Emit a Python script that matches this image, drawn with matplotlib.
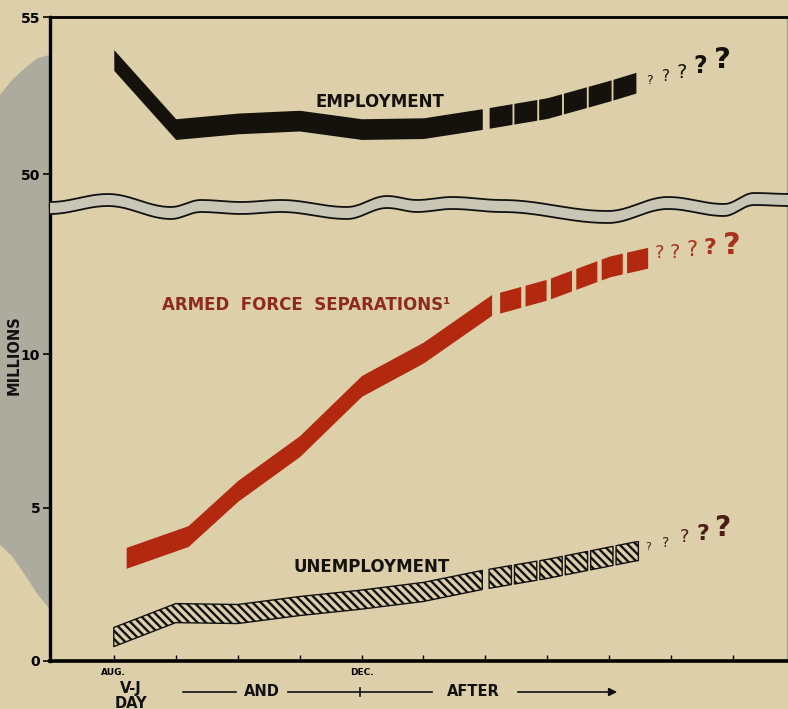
import numpy as np
import matplotlib
matplotlib.use('Agg')
import matplotlib.pyplot as plt
from matplotlib.patches import Polygon

plt.rcParams['font.family'] = ['DejaVu Sans']
plt.rcParams['hatch.linewidth'] = 1.7

# months after V-J day (0 = Aug.), values in millions
emp_months = [0, 1, 2, 3, 4, 5, 5.95]
emp_values = [53.63, 51.43, 51.61, 51.70, 51.43, 51.46, 51.75]
emp_proj_months = [5.95, 7, 8, 8.45]
emp_proj_values = [51.75, 52.1, 52.65, 52.92]

sep_months = [0.2, 1.2, 2, 3, 4, 5, 6.1]
sep_values = [3.36, 4.07, 5.54, 7.0, 8.96, 10.05, 11.6]
sep_proj_months = [6.1, 7, 8, 8.65]
sep_proj_values = [11.6, 12.1, 12.85, 13.15]

unemp_months = [0, 1, 2, 3, 4, 5, 5.95]
unemp_values = [0.78, 1.56, 1.53, 1.79, 2.0, 2.25, 2.64]
unemp_proj_months = [5.95, 7, 8, 8.45]
unemp_proj_values = [2.64, 3.0, 3.4, 3.58]

month_ticks = list(range(11))
month_labels = ['AUG.', '', '', '', 'DEC.', '', '', '', '', '', '']
upper_ticks = [50, 55]
lower_ticks = [0, 5, 10]

PAPER = '#dccfa9'
W, H = 788, 709


def fpx(x, y):
    # figure pixel (from top-left) -> figure fraction
    return x / W, 1 - y / H


def band(ax, xs, ys, half, **kw):
    xs = np.asarray(xs, float)
    ys = np.asarray(ys, float)
    ax.fill_between(xs, ys - half, ys + half, **kw)


def dash_blocks(ax, px, py, start, period, width, n, half, **kw):
    for i in range(n):
        a = start + i * period
        xs = np.linspace(a, a + width, 6)
        ys = np.interp(xs, px, py)
        ax.fill_between(xs, ys - half, ys + half, **kw)


def qmarks(ax, x0, y0, offsets, sizes, color, bold_last=True):
    for i, ((dx, dy), s) in enumerate(zip(offsets, sizes)):
        w = 'bold' if (bold_last and i >= len(sizes) - 2) else 'normal'
        ax.annotate('?', xy=(x0, y0), xytext=(dx, dy), textcoords='offset pixels',
                    ha='center', va='center', fontsize=s, color=color, weight=w)


fig = plt.figure(figsize=(W / 100, H / 100), dpi=100, facecolor=PAPER)

x_left, x_right = 50 / W, 787 / W
y_top, y_break, y_bot = 1 - 17 / H, 1 - 205 / H, 1 - 661 / H
ax_top = fig.add_axes([x_left, y_break, x_right - x_left, y_top - y_break])
ax_bot = fig.add_axes([x_left, y_bot, x_right - x_left, y_break - y_bot])

xlim = (-1.03, 10.87)
for ax in (ax_top, ax_bot):
    ax.set_facecolor(PAPER)
    ax.set_xlim(*xlim)
    ax.spines['left'].set_linewidth(2.4)
    ax.spines['right'].set_linewidth(1)
    ax.spines['right'].set_color('#a59f8a')
    ax.tick_params(axis='y', direction='out', length=5, width=1.2, labelsize=10, pad=2)

ax_top.set_ylim(55 - (205 - 17) / 31.4, 55)
ax_bot.set_ylim(0, (661 - 205) / 30.7)

ax_top.spines['bottom'].set_visible(False)
ax_top.spines['top'].set_linewidth(2)
ax_top.set_xticks([])
ax_top.set_yticks(upper_ticks)
ax_top.set_yticklabels([str(t) for t in upper_ticks], weight='bold')

ax_bot.spines['top'].set_visible(False)
ax_bot.spines['bottom'].set_linewidth(2.6)
ax_bot.set_yticks(lower_ticks)
ax_bot.set_yticklabels([str(t) for t in lower_ticks], weight='bold')
ax_bot.set_xticks(month_ticks)
ax_bot.set_xticklabels(month_labels, fontsize=6.5, weight='bold')
ax_bot.tick_params(axis='x', direction='in', length=4, width=1, pad=5)

# employment (black)
emp_style = dict(color='#15120e', linewidth=0)
band(ax_top, emp_months, emp_values, 0.33, **emp_style)
dash_blocks(ax_top, emp_proj_months, emp_proj_values, 6.06, 0.40, 0.37, 6, 0.33, **emp_style)
qmarks(ax_top, emp_proj_months[-1], emp_proj_values[-1],
       [(12, 2), (29, 6), (45, 10), (63, 16), (85, 22)], [9, 11, 14, 17, 21], '#15120e')
ax_top.text(4.29, 52.29, 'EMPLOYMENT', ha='center', va='center', fontsize=12,
            weight='bold', color='#15120e')

# armed force separations (red)
sep_style = dict(color='#b3290f', linewidth=0)
band(ax_bot, sep_months, sep_values, 0.34, **sep_style)
dash_blocks(ax_bot, sep_proj_months, sep_proj_values, 6.23, 0.41, 0.34, 6, 0.34, **sep_style)
qmarks(ax_bot, sep_proj_months[-1], sep_proj_values[-1],
       [(10, 4), (25, 5), (43, 7), (60, 9), (82, 12)], [13, 14, 15, 16, 22], '#a8321c')
ax_bot.text(3.1, 11.6, 'ARMED  FORCE  SEPARATIONS\u00b9', ha='center', va='center',
            fontsize=12, weight='bold', color='#8e2b1c')

# unemployment (hatched)
unemp_style = dict(facecolor=PAPER, edgecolor='#111111', hatch='\\\\\\\\', linewidth=1)
band(ax_bot, unemp_months, unemp_values, 0.31, **unemp_style)
dash_blocks(ax_bot, unemp_proj_months, unemp_proj_values, 6.06, 0.41, 0.36, 6, 0.31, **unemp_style)
qmarks(ax_bot, unemp_proj_months[-1], unemp_proj_values[-1],
       [(11, 4), (29, 8), (47, 14), (66, 17), (85, 23)], [8, 10, 13, 16, 20], '#4a1d18')
ax_bot.text(4.16, 3.06, 'UNEMPLOYMENT', ha='center', va='center', fontsize=12,
            weight='bold', color='#15120e')

# page shadow at left edge of the scan
shadow = [(49, 55), (38, 58), (25, 68), (12, 80), (0, 95), (0, 545),
          (12, 556), (25, 575), (38, 595), (49, 608)]
fig.add_artist(Polygon([fpx(x, y) for x, y in shadow], closed=True,
                       transform=fig.transFigure, facecolor='#acab9e',
                       edgecolor='none', zorder=-1))

# wavy scale break
wave_x = [50, 108, 171, 201, 241, 281, 347, 387, 417, 452, 502, 608, 668, 724, 754, 790]
wave_y = [208, 200, 213, 206, 208, 206, 213, 202, 206, 203, 206, 217, 203, 210, 199, 200]
wx, wy = [], []
for i in range(len(wave_x) - 1):
    t = np.linspace(0, 1, 25)
    wx.extend(wave_x[i] + (wave_x[i + 1] - wave_x[i]) * t)
    wy.extend(wave_y[i] + (wave_y[i + 1] - wave_y[i]) * (1 - np.cos(np.pi * t)) / 2)
wx, wy = np.array(wx), np.array(wy)
top_edge = [fpx(x, y - 6) for x, y in zip(wx, wy)]
bot_edge = [fpx(x, y + 6) for x, y in zip(wx, wy)]
fig.add_artist(Polygon(top_edge + bot_edge[::-1], closed=True, transform=fig.transFigure,
                       facecolor='#c9c6b6', edgecolor='none', zorder=5))
for edge in (top_edge, bot_edge):
    ex, ey = zip(*edge)
    fig.add_artist(plt.Line2D(ex, ey, transform=fig.transFigure, color='#111111',
                              linewidth=1.3, zorder=6))

# axis title
fig.text(*fpx(14, 355), 'MILLIONS', rotation=90, ha='center', va='center',
         fontsize=10.5, weight='bold', color='#111111')

# "V-J DAY ---- AND ----+---- AFTER ---->"
txt = dict(ha='center', va='center', fontsize=10.5, weight='bold', color='#111111')
fig.text(*fpx(131, 689), 'V-J', **txt)
fig.text(*fpx(131, 703), 'DAY', **txt)
fig.text(*fpx(262, 692), 'AND', **txt)
fig.text(*fpx(473, 692), 'AFTER', **txt)
for x0, x1 in [(183, 236), (288, 432)]:
    fig.add_artist(plt.Line2D([x0 / W, x1 / W], [1 - 692 / H] * 2,
                              transform=fig.transFigure, color='#111111', linewidth=1.2))
fig.add_artist(plt.Line2D([360 / W] * 2, [1 - 688 / H, 1 - 696 / H],
                          transform=fig.transFigure, color='#111111', linewidth=1.2))
ax_bot.annotate('', xy=(620, H - 692), xytext=(515, H - 692), xycoords='figure pixels',
                textcoords='figure pixels',
                arrowprops=dict(arrowstyle='-|>', color='#111111', lw=1.2, mutation_scale=12))

fig.savefig('out.png', dpi=100, facecolor=PAPER)
